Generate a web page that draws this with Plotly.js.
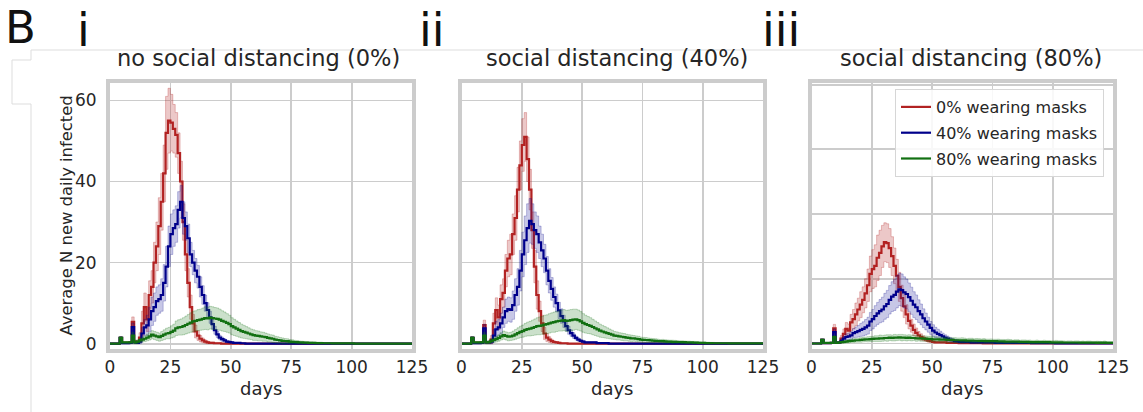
<!DOCTYPE html>
<html>
<head>
<meta charset="utf-8">
<script src="https://cdn.plot.ly/plotly-3.0.1.min.js"></script>
<style>
  html, body { margin: 0; padding: 0; background: #fff; }
  #chart { width: 1143px; height: 412px; }
</style>
</head>
<body>
<div id="chart"></div>
<script>
// Simulation day index (x axis)
const days = [
  0,1,2,3,4,5,6,7,8,9,10,11,12,13,14,15,16,17,18,19,
  20,21,22,23,24,25,26,27,28,29,30,31,32,33,34,35,36,37,38,39,
  40,41,42,43,44,45,46,47,48,49,50,51,52,53,54,55,56,57,58,59,
  60,61,62,63,64,65,66,67,68,69,70,71,72,73,74,75,76,77,78,79,
  80,81,82,83,84,85,86,87,88,89,90,91,92,93,94,95,96,97,98,99,
  100,101,102,103,104,105,106,107,108,109,110,111,112,113,114,115,116,117,118,119,
  120,121,122,123,124,125
];

const scenarioTitles = ['no social distancing (0%)', 'social distancing (40%)', 'social distancing (80%)'];
const panelTags = ['i', 'ii', 'iii'];
const maskLabels = ['0% wearing masks', '40% wearing masks', '80% wearing masks'];
const xTicks = [0, 25, 50, 75, 100, 125];

// ---- no social distancing ----
const sd0_m0 = [
  0,0,0,0,1.4,0.2,0.2,0.2,0.3,5.4,
  0.5,0.4,1.5,5,9,6,12,14,20,24,
  29,35,42,52,55,54.5,53,51.5,47,40,
  30,22,15,9,5,3,2,1.2,0.8,0.5,
  0.3,0.2,0.2,0.1,0.1,0.1,0,0,0,0,
  0,0,0,0,0,0,0,0,0,0, 0,0,0,0,0,0,0,0,0,0,
  0,0,0,0,0,0,0,0,0,0, 0,0,0,0,0,0,0,0,0,0,
  0,0,0,0,0,0,0,0,0,0, 0,0,0,0,0,0,0,0,0,0,
  0,0,0,0,0,0,0,0,0,0, 0,0,0,0,0,0
];
const sd0_m0_err = [
  0,0,0,0,0.3,0.2,0.2,0.2,0.2,1.2,
  0.4,0.4,1.2,3,3.5,3,3.5,4,5,6,
  7,7,7,9,8,7,6,5.5,5,5,
  4.5,4,3.5,3,2.2,1.6,1.2,0.8,0.6,0.4,
  0.3,0.2,0.2,0.2,0.2,0.2,0,0,0,0,
  0,0,0,0,0,0,0,0,0,0, 0,0,0,0,0,0,0,0,0,0,
  0,0,0,0,0,0,0,0,0,0, 0,0,0,0,0,0,0,0,0,0,
  0,0,0,0,0,0,0,0,0,0, 0,0,0,0,0,0,0,0,0,0,
  0,0,0,0,0,0,0,0,0,0, 0,0,0,0,0,0
];
const sd0_m40 = [
  0,0,0,0,1.4,0.1,0.1,0.1,0.2,4.1,
  0.3,0.2,0.5,2.5,4,4.5,6,8,9,10.5,
  11,12,15,19,24,27,28.5,29.5,33,35,
  31,29,26,22,20,18,16.5,14,12,10,
  8.3,6.5,4.8,3.3,2.3,1.5,1.1,0.8,0.5,0.4,
  0.3,0.2,0.2,0.2,0.1,0.1,0,0,0,0,
  0,0,0,0,0,0,0,0,0,0, 0,0,0,0,0,0,0,0,0,0,
  0,0,0,0,0,0,0,0,0,0, 0,0,0,0,0,0,0,0,0,0,
  0,0,0,0,0,0,0,0,0,0, 0,0,0,0,0,0,0,0,0,0,
  0,0,0,0,0,0
];
const sd0_m40_err = [
  0,0,0,0,0.3,0.1,0.1,0.1,0.1,1,
  0.3,0.2,0.5,1.5,2,2.5,3,3.5,3.5,3.5,
  3.5,4,4.5,5,5,5,4.5,4.5,4.5,4,
  4,3.5,3.5,3,3,3,2.8,2.5,2.3,2,
  1.8,1.5,1.2,1,0.8,0.6,0.5,0.4,0.3,0.3,
  0.2,0.1,0.1,0.1,0.1,0.1,0,0,0,0,
  0,0,0,0,0,0,0,0,0,0, 0,0,0,0,0,0,0,0,0,0,
  0,0,0,0,0,0,0,0,0,0, 0,0,0,0,0,0,0,0,0,0,
  0,0,0,0,0,0,0,0,0,0, 0,0,0,0,0,0,0,0,0,0,
  0,0,0,0,0,0
];
const sd0_m80 = [
  0,0,0,0,1.4,0.3,0.3,0.3,0.3,2.0,
  0.3,0.5,0.8,1.0,1.2,1.5,1.8,2.2,2.0,1.8,
  1.6,1.9,2.2,2.5,2.6,2.9,3.2,3.8,4.0,4.1,
  4.3,4.6,4.9,5.2,5.5,5.6,5.8,5.9,6.1,6.3,
  6.2,6.4,6.3,6.2,6.1,5.9,5.6,5.4,5.1,4.8,
  4.3,4.0,3.7,3.4,3.1,2.9,2.7,2.5,2.3,2.1,
  2.0,1.9,1.8,1.7,1.6,1.4,1.3,1.2,1.0,0.9,
  0.8,0.7,0.65,0.6,0.5,0.45,0.4,0.35,0.3,0.3,
  0.25,0.25,0.2,0.2,0.2,0.15,0.15,0.15,0.1,0.1,
  0.1,0.1,0.05,0.05,0.05,0.05,0.05,0.05,0.05,0.05,
  0.05,0,0,0,0,0,0,0,0,0,
  0,0,0,0,0,0,0,0,0,0,
  0,0,0,0,0,0
];
const sd0_m80_err = [
  0,0,0,0,0.3,0.2,0.2,0.2,0.2,0.8,
  0.3,0.4,0.5,0.6,0.7,0.8,0.9,1.0,1.0,1.0,
  1.0,1.1,1.2,1.3,1.4,1.5,1.6,1.8,1.9,2.0,
  2.1,2.2,2.3,2.4,2.5,2.5,2.6,2.6,2.7,2.8,
  2.8,2.8,2.8,2.7,2.7,2.6,2.5,2.4,2.3,2.2,
  2.1,2.0,1.9,1.8,1.7,1.6,1.5,1.4,1.3,1.3,
  1.2,1.2,1.1,1.1,1.0,1.0,0.9,0.9,0.8,0.8,
  0.7,0.7,0.6,0.6,0.5,0.5,0.4,0.4,0.35,0.3,
  0.3,0.25,0.25,0.25,0.2,0.2,0.2,0.2,0.15,0.15,
  0.15,0.1,0.1,0.1,0.1,0.1,0.1,0.1,0.1,0.1,
  0,0,0,0,0,0,0,0,0,0,
  0,0,0,0,0,0,0,0,0,0,
  0,0,0,0,0,0
];

// ---- 40% social distancing ----
const sd40_m0 = [
  0,0,0,0,1.4,0.2,0.2,0.2,0.3,4.6,
  0.3,0.3,1.0,5,8.3,6.5,11,12.5,18,21,
  22,27,31,38,44,49,51,45.5,38,28,
  19,12,8,5,2.5,1.5,1.0,0.6,0.4,0.3,
  0.2,0.1,0.1,0.1,0,0,0,0,0,0,
  0,0,0,0,0,0,0,0,0,0, 0,0,0,0,0,0,0,0,0,0,
  0,0,0,0,0,0,0,0,0,0, 0,0,0,0,0,0,0,0,0,0,
  0,0,0,0,0,0,0,0,0,0, 0,0,0,0,0,0,0,0,0,0,
  0,0,0,0,0,0,0,0,0,0, 0,0,0,0,0,0
];
const sd40_m0_err = [
  0,0,0,0,0.3,0.2,0.2,0.2,0.2,1.2,
  0.3,0.3,1,2.5,3,3,3.5,3.5,4,4.5,
  5,5,5.5,5.5,6,6.5,6,5.5,5,4.5,
  4,3.5,2.5,2,1.5,1,0.7,0.5,0.3,0.2,
  0.2,0.1,0.1,0.1,0,0,0,0,0,0,
  0,0,0,0,0,0,0,0,0,0, 0,0,0,0,0,0,0,0,0,0,
  0,0,0,0,0,0,0,0,0,0, 0,0,0,0,0,0,0,0,0,0,
  0,0,0,0,0,0,0,0,0,0, 0,0,0,0,0,0,0,0,0,0,
  0,0,0,0,0,0,0,0,0,0, 0,0,0,0,0,0
];
const sd40_m40 = [
  0,0,0,0,1.4,0.1,0.1,0.1,0.2,3.8,
  0.3,0.3,0.5,2,3.5,4,5,6.5,8,8.5,
  8.3,9.5,12,14,18,22,25.5,28.5,30.3,29.5,
  28,27,25,23,21,18,15.5,13.5,11.5,10,
  8.2,6.8,5.5,4.3,3.3,2.6,2.0,1.4,1.0,0.7,
  0.5,0.3,0.3,0.3,0.3,0.3,0.15,0.15,0.15,0.15,
  0.15,0,0,0,0,0,0,0,0,0,
  0,0,0,0,0,0,0,0,0,0, 0,0,0,0,0,0,0,0,0,0,
  0,0,0,0,0,0,0,0,0,0, 0,0,0,0,0,0,0,0,0,0,
  0,0,0,0,0,0,0,0,0,0, 0,0,0,0,0,0
];
const sd40_m40_err = [
  0,0,0,0,0.3,0.1,0.1,0.1,0.1,1,
  0.3,0.3,0.5,1.5,2,2,2.5,2.5,3,3,
  3,3.5,4,4.5,5,5.5,6,6,5.5,5,
  4.5,4.5,4,4,3.5,3.5,3,2.8,2.5,2.2,
  2,1.8,1.5,1.2,1,0.8,0.7,0.5,0.4,0.3,
  0.3,0.2,0.2,0.2,0.2,0.2,0.1,0.1,0.1,0.1,
  0.1,0,0,0,0,0,0,0,0,0,
  0,0,0,0,0,0,0,0,0,0, 0,0,0,0,0,0,0,0,0,0,
  0,0,0,0,0,0,0,0,0,0, 0,0,0,0,0,0,0,0,0,0,
  0,0,0,0,0,0,0,0,0,0, 0,0,0,0,0,0
];
const sd40_m80 = [
  0,0,0,0,1.4,0.3,0.3,0.3,0.3,2.0,
  0.3,0.4,0.7,0.9,1.1,1.4,1.8,2.1,1.9,1.7,
  1.8,2.0,2.3,2.6,2.9,3.1,3.4,3.6,3.7,3.9,
  4.1,4.3,4.4,4.5,4.7,4.8,5.0,5.2,5.3,5.5,
  5.6,5.7,5.8,5.6,5.7,5.8,5.9,6.0,5.8,5.5,
  5.1,4.8,4.6,4.4,4.1,3.8,3.5,3.2,3.0,2.8,
  2.6,2.4,2.2,2.0,1.9,1.8,1.7,1.6,1.5,1.4,
  1.3,1.3,1.2,1.1,1.0,0.95,0.9,0.85,0.8,0.75,
  0.7,0.65,0.6,0.6,0.55,0.5,0.5,0.45,0.45,0.4,
  0.4,0.35,0.35,0.3,0.3,0.3,0.25,0.25,0.2,0.2,
  0.2,0.15,0.15,0.15,0.1,0.1,0.1,0.1,0.1,0.1,
  0.1,0.05,0.05,0.05,0.05,0.05,0.05,0.05,0.05,0.05,
  0.05,0.05,0.05,0.05,0.05,0.05
];
const sd40_m80_err = [
  0,0,0,0,0.3,0.2,0.2,0.2,0.2,0.8,
  0.3,0.4,0.5,0.6,0.7,0.8,0.9,1.0,1.0,1.0,
  1.0,1.1,1.2,1.3,1.4,1.5,1.6,1.7,1.8,1.9,
  2.0,2.1,2.2,2.2,2.3,2.3,2.4,2.4,2.5,2.5,
  2.5,2.6,2.6,2.6,2.6,2.6,2.6,2.5,2.5,2.4,
  2.3,2.2,2.1,2.0,1.9,1.8,1.7,1.6,1.5,1.4,
  1.3,1.2,1.1,1.0,1.0,0.9,0.9,0.9,0.8,0.8,
  0.8,0.7,0.7,0.7,0.6,0.6,0.6,0.55,0.5,0.5,
  0.5,0.45,0.4,0.45,0.4,0.4,0.35,0.4,0.35,0.35,
  0.3,0.35,0.3,0.3,0.3,0.25,0.3,0.25,0.25,0.2,
  0.2,0.2,0.2,0.15,0.2,0.15,0.15,0.15,0.1,0.1,
  0.1,0.1,0.1,0.1,0.1,0.05,0.05,0.05,0.05,0.05,
  0.05,0.05,0.05,0.05,0.05,0.05
];

// ---- 80% social distancing ----
const sd80_m0 = [
  0,0,0,0,1.1,0.1,0.1,0.1,0.2,4.7,
  0.3,0.3,1.5,3,4.5,4,6.5,7.5,9,10.5,
  12,13.5,15.5,18,21.5,23,24,26.5,28,30,
  31.3,31,29.5,27,24,21,17.5,14,11.5,9,
  7,5.5,4.2,3.3,2.5,2,1.6,1.2,0.9,0.7,
  0.5,0.35,0.35,0.35,0.35,0.35,0.2,0.2,0.2,0.2,
  0.2,0.1,0.1,0.1,0.1,0.1,0.1,0.1,0.1,0.1,
  0.1,0,0,0,0,0,0,0,0,0,
  0,0,0,0,0,0,0,0,0,0, 0,0,0,0,0,0,0,0,0,0,
  0,0,0,0,0,0,0,0,0,0, 0,0,0,0,0,0,0,0,0,0,
  0,0,0,0,0,0
];
const sd80_m0_err = [
  0,0,0,0,0.3,0.1,0.1,0.1,0.1,1.2,
  0.3,0.3,1,1.5,2,2,2.5,3,3.5,3.5,
  4,4,4.5,5,5.5,6,6.5,7,7,6.5,
  6,6,6,6,5.5,5,4.5,4,3.5,3,
  2.5,2,1.8,1.5,1.2,1,0.8,0.6,0.5,0.4,
  0.3,0.2,0.2,0.2,0.2,0.2,0.2,0.2,0.2,0.2,
  0.2,0.1,0.1,0.1,0.1,0.1,0.1,0.1,0.1,0.1,
  0.1,0,0,0,0,0,0,0,0,0,
  0,0,0,0,0,0,0,0,0,0, 0,0,0,0,0,0,0,0,0,0,
  0,0,0,0,0,0,0,0,0,0, 0,0,0,0,0,0,0,0,0,0,
  0,0,0,0,0,0
];
const sd80_m40 = [
  0,0,0,0,1.1,0.1,0.1,0.1,0.2,3.5,
  0.3,0.3,0.8,1.5,2,2.2,2.5,3.2,3.5,3.8,
  4.2,4.5,5.0,5.5,6.8,7.5,8.5,9.3,10,10.5,
  11.5,12.2,13.5,14.5,15,16,16.7,16.5,15.8,15.3,
  14.3,13.2,12,11.2,10,9,7.8,6.8,5.8,4.8,
  4,3.4,3,2.6,2.2,1.8,1.5,1.2,1.0,0.8,
  0.7,0.5,0.5,0.5,0.5,0.5,0.35,0.35,0.35,0.35,
  0.35,0.35,0.35,0.35,0.35,0.35,0.2,0.2,0.2,0.2,
  0.2,0.2,0.2,0.2,0.2,0.2,0.2,0.2,0.2,0.2,
  0.2,0.1,0.1,0.1,0.1,0.1,0.1,0.1,0.1,0.1,
  0.1,0,0,0,0,0,0,0,0,0,
  0,0,0,0,0,0,0,0,0,0,
  0,0,0,0,0,0
];
const sd80_m40_err = [
  0,0,0,0,0.3,0.1,0.1,0.1,0.1,1,
  0.2,0.2,0.5,0.8,1,1,1.2,1.4,1.6,1.8,
  2,2.2,2.4,2.6,2.8,3,3.2,3.4,3.6,3.8,
  4,4.2,4.4,4.6,4.8,5,5,5,4.8,4.6,
  4.4,4.2,4,3.8,3.5,3.2,2.9,2.6,2.3,2,
  1.8,1.6,1.4,1.2,1,0.9,0.8,0.7,0.6,0.5,
  0.5,0.4,0.4,0.4,0.4,0.4,0.3,0.3,0.3,0.3,
  0.3,0.3,0.3,0.3,0.3,0.3,0.2,0.2,0.2,0.2,
  0.2,0.2,0.2,0.2,0.2,0.2,0.2,0.2,0.2,0.2,
  0.2,0.1,0.1,0.1,0.1,0.1,0.1,0.1,0.1,0.1,
  0.1,0,0,0,0,0,0,0,0,0,
  0,0,0,0,0,0,0,0,0,0,
  0,0,0,0,0,0
];
const sd80_m80 = [
  0,0,0,0,1.1,0.2,0.2,0.2,0.2,2.0,
  0.2,0.3,0.4,0.5,0.6,0.7,0.8,0.9,1.0,1.0,
  1.1,1.2,1.25,1.3,1.35,1.4,1.5,1.5,1.6,1.6,
  1.7,1.7,1.8,1.7,1.8,1.8,1.9,1.8,1.8,1.7,
  1.8,1.7,1.7,1.6,1.6,1.6,1.5,1.5,1.4,1.4,
  1.3,1.3,1.3,1.2,1.2,1.2,1.1,1.1,1.1,1.0,
  1.0,1.0,0.95,0.95,0.9,0.9,0.9,0.85,0.85,0.8,
  0.8,0.8,0.75,0.75,0.7,0.7,0.7,0.65,0.65,0.65,
  0.6,0.6,0.6,0.55,0.55,0.55,0.5,0.5,0.5,0.5,
  0.45,0.45,0.45,0.45,0.4,0.4,0.4,0.4,0.4,0.35,
  0.35,0.35,0.35,0.35,0.3,0.3,0.3,0.3,0.3,0.3,
  0.3,0.25,0.25,0.25,0.25,0.25,0.25,0.25,0.2,0.25,
  0.2,0.25,0.2,0.2,0.2,0.2
];
const sd80_m80_err = [
  0,0,0,0,0.3,0.1,0.1,0.1,0.1,0.6,
  0.2,0.3,0.3,0.4,0.4,0.5,0.5,0.6,0.6,0.6,
  0.7,0.7,0.7,0.8,0.8,0.8,0.9,0.9,1.0,0.9,
  0.9,1.0,0.9,0.9,1.0,0.9,0.9,1.0,0.9,0.9,
  0.9,0.9,0.8,0.9,0.8,0.9,0.8,0.8,0.8,0.9,
  0.8,0.8,0.7,0.8,0.8,0.7,0.8,0.7,0.7,0.8,
  0.7,0.7,0.8,0.7,0.6,0.7,0.7,0.6,0.7,0.7,
  0.6,0.7,0.6,0.6,0.7,0.6,0.6,0.7,0.6,0.6,
  0.6,0.7,0.6,0.5,0.6,0.6,0.5,0.6,0.6,0.5,
  0.6,0.5,0.5,0.6,0.5,0.5,0.6,0.5,0.5,0.5,
  0.5,0.6,0.5,0.5,0.5,0.4,0.5,0.5,0.4,0.5,
  0.5,0.4,0.5,0.4,0.5,0.5,0.4,0.4,0.5,0.4,
  0.4,0.5,0.4,0.4,0.4,0.4
];

// ---- styling ----
const FONT = '"DejaVu Sans", "Liberation Sans", sans-serif';
const TEXT = '#262626';
const GRID = '#cccccc';
const lineColors = ['#b22222', '#00008b', '#127012'];
const bandFill = ['rgba(178,34,34,0.25)', 'rgba(0,0,139,0.22)', 'rgba(18,112,18,0.22)'];
const bandEdge = ['rgba(178,34,34,0.35)', 'rgba(0,0,139,0.3)', 'rgba(18,112,18,0.3)'];
const groups = ['m0', 'm40', 'm80'];

const W = 1143, H = 412;
const fx = v => v / W;          // pixel column -> paper x
const fy = v => 1 - v / H;      // pixel row -> paper y

const panels = [
  { lines: [sd0_m0, sd0_m40, sd0_m80],   errs: [sd0_m0_err, sd0_m40_err, sd0_m80_err] },
  { lines: [sd40_m0, sd40_m40, sd40_m80], errs: [sd40_m0_err, sd40_m40_err, sd40_m80_err] },
  { lines: [sd80_m0, sd80_m40, sd80_m80], errs: [sd80_m0_err, sd80_m40_err, sd80_m80_err] }
];

const traces = [];
panels.forEach((p, i) => {
  const xa = i === 0 ? 'x' : 'x' + (i + 1);
  const ya = i === 0 ? 'y' : 'y' + (i + 1);
  p.lines.forEach((vals, k) => {
    const err = p.errs[k];
    const lo = vals.map((v, j) => Math.max(0, v - err[j]));
    const hi = vals.map((v, j) => v + err[j]);
    traces.push({ x: days, y: lo, xaxis: xa, yaxis: ya, type: 'scatter', mode: 'lines',
      line: { shape: 'hv', width: 0.8, color: bandEdge[k] }, hoverinfo: 'skip',
      showlegend: false, legendgroup: groups[k] });
    traces.push({ x: days, y: hi, xaxis: xa, yaxis: ya, type: 'scatter', mode: 'lines',
      fill: 'tonexty', fillcolor: bandFill[k],
      line: { shape: 'hv', width: 0.8, color: bandEdge[k] }, hoverinfo: 'skip',
      showlegend: false, legendgroup: groups[k] });
    traces.push({ x: days, y: vals, xaxis: xa, yaxis: ya, type: 'scatter', mode: 'lines',
      name: maskLabels[k], line: { shape: 'hv', width: 2.2, color: lineColors[k] },
      showlegend: i === 0, legendgroup: groups[k] });
  });
});

const axisBase = {
  showline: true, mirror: true, linewidth: 4, linecolor: GRID,
  showgrid: true, gridcolor: GRID, gridwidth: 1.8, zeroline: false,
  ticks: '', tickfont: { family: FONT, size: 17, color: TEXT }, fixedrange: true
};
const xDomains = [[110, 412], [461.5, 763], [811.5, 1113]];
const yDomain = [fy(348.5), fy(83)];

const layout = {
  width: W, height: H,
  margin: { l: 0, r: 0, t: 0, b: 0 },
  paper_bgcolor: '#ffffff', plot_bgcolor: '#ffffff',
  font: { family: FONT, color: TEXT },
  showlegend: true,
  legend: {
    x: fx(1104), xanchor: 'right', y: fy(89), yanchor: 'top',
    bgcolor: 'rgba(255,255,255,0.85)', bordercolor: '#d6d6d6', borderwidth: 1,
    font: { family: FONT, size: 16, color: TEXT }, tracegroupgap: 2
  },
  annotations: [],
  shapes: []
};

xDomains.forEach((d, i) => {
  const key = i === 0 ? 'xaxis' : 'xaxis' + (i + 1);
  layout[key] = Object.assign({}, axisBase, {
    domain: [fx(d[0]), fx(d[1])], anchor: i === 0 ? 'y' : 'y' + (i + 1),
    range: [0, 125], tickvals: xTicks, ticklabelstandoff: 0
  });
});
layout.yaxis = Object.assign({}, axisBase, {
  domain: yDomain, anchor: 'x', range: [-1.2, 64.3], tickvals: [0, 20, 40, 60], ticklabelstandoff: 6
});
layout.yaxis2 = Object.assign({}, axisBase, {
  domain: yDomain, anchor: 'x2', range: [-1.2, 64.3], tickvals: [0, 20, 40, 60], showticklabels: false
});
layout.yaxis3 = Object.assign({}, axisBase, {
  domain: yDomain, anchor: 'x3', range: [-1.55, 80.5], tickvals: [0, 20, 40, 60, 80], showticklabels: false
});

// panel titles, tags and axis labels
const titleCenters = [258.5, 616.5, 971];
const tagCenters = [83.5, 432, 781];
const dayCenters = [261, 612, 962];
scenarioTitles.forEach((t, i) => {
  layout.annotations.push({ xref: 'paper', yref: 'paper', x: fx(titleCenters[i]), y: fy(58),
    xanchor: 'center', yanchor: 'middle', showarrow: false, text: t,
    font: { family: FONT, size: 22.5, color: TEXT } });
  layout.annotations.push({ xref: 'paper', yref: 'paper', x: fx(tagCenters[i]), y: fy(30),
    xanchor: 'center', yanchor: 'middle', showarrow: false, text: panelTags[i],
    font: { family: FONT, size: 46, color: '#111111' } });
  layout.annotations.push({ xref: 'paper', yref: 'paper', x: fx(dayCenters[i]), y: fy(388),
    xanchor: 'center', yanchor: 'middle', showarrow: false, text: 'days',
    font: { family: FONT, size: 18, color: TEXT } });
});
layout.annotations.push({ xref: 'paper', yref: 'paper', x: fx(4), y: 1,
  xanchor: 'left', yanchor: 'top', showarrow: false, text: 'B', borderpad: 0,
  font: { family: FONT, size: 45, color: '#111111' } });
layout.annotations.push({ xref: 'paper', yref: 'paper', x: fx(66), y: fy(215.5),
  xanchor: 'center', yanchor: 'middle', showarrow: false, textangle: -90,
  text: 'Average N new daily infected', font: { family: FONT, size: 16.4, color: TEXT } });

// thin page rules around the figure
const rule = { type: 'line', xref: 'paper', yref: 'paper', line: { color: '#dddddd', width: 1 } };
[
  [31, 50, 1143, 50], [31, 50, 31, 60], [12, 60, 31, 60],
  [12, 60, 12, 104], [12, 104, 31, 104], [31, 104, 31, 412]
].forEach(s => layout.shapes.push(Object.assign({}, rule,
  { x0: fx(s[0]), y0: fy(s[1]), x1: fx(s[2]), y1: fy(s[3]) })));

Plotly.newPlot('chart', traces, layout, { displayModeBar: false, staticPlot: true });
</script>
</body>
</html>
